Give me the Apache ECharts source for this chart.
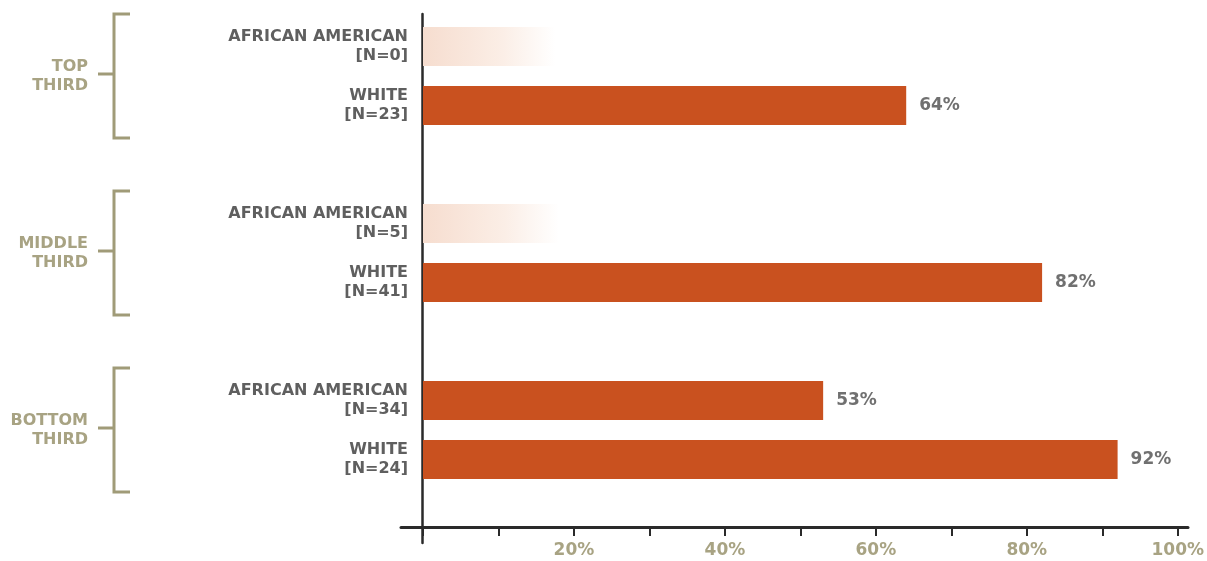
<!DOCTYPE html>
<html>
<head>
<meta charset="utf-8">
<script src="https://cdn.jsdelivr.net/npm/echarts@6/dist/echarts.min.js"></script>
<style>
  html, body { margin: 0; padding: 0; background: #ffffff; }
  #chart { width: 1207px; height: 561px; }
</style>
</head>
<body>
<div id="chart"></div>
<script>
// ---- data ----
const categories = [
  'AFRICAN AMERICAN\n[N=0]',
  'WHITE\n[N=23]',
  '',
  'AFRICAN AMERICAN\n[N=5]',
  'WHITE\n[N=41]',
  ' ',
  'AFRICAN AMERICAN\n[N=34]',
  'WHITE\n[N=24]'
];
const values = [null, 64, null, null, 82, null, 53, 92];
// faded placeholder bars (groups too small to report)
const fadedValues = [17.5, null, null, 18, null, null, null, null];
const groupNames = ['TOP\nTHIRD', 'MIDDLE\nTHIRD', 'BOTTOM\nTHIRD'];
const groupRanges = [[0, 1], [3, 4], [6, 7]];
const xTickValues = [0, 10, 20, 30, 40, 50, 60, 70, 80, 90, 100];
const xLabelValues = [20, 40, 60, 80, 100];

const FONT = 'DejaVu Sans';
const OLIVE = '#a8a383';
const BRACKET = '#a09b78';
const DARK = '#2a2a2a';
const BAR = '#c9511f';

const chart = echarts.init(document.getElementById('chart'));

const option = {
  backgroundColor: '#ffffff',
  animation: false,
  grid: [
    { left: 423, width: 755, top: 17, height: 472 },          // bars
    { left: 401, right: 19, top: 14, bottom: 34 },            // x axis line
    { left: 423, width: 755, top: 14, bottom: 34 },           // ticks & labels
    { left: 422, width: 10, top: 14, bottom: 18 }             // y axis line
  ],
  xAxis: [
    { gridIndex: 0, type: 'value', min: 0, max: 100, show: false },
    { gridIndex: 1, type: 'value', min: 0, max: 1,
      axisLine: { show: true, lineStyle: { color: DARK, width: 3 } },
      axisTick: { show: false }, axisLabel: { show: false }, splitLine: { show: false } },
    { gridIndex: 2, type: 'value', min: xTickValues[0], max: xTickValues[xTickValues.length - 1], interval: 10,
      axisLine: { show: false },
      axisTick: { show: true, length: 9, lineStyle: { color: DARK, width: 2 } },
      axisLabel: {
        margin: 15,
        color: OLIVE, fontFamily: FONT, fontWeight: 'bold', fontSize: 17,
        formatter: v => xLabelValues.indexOf(v) >= 0 ? v + '%' : ''
      },
      splitLine: { show: false } },
    { gridIndex: 3, type: 'value', show: false }
  ],
  yAxis: [
    { gridIndex: 0, type: 'category', data: categories, inverse: true,
      axisLine: { show: false }, axisTick: { show: false },
      axisLabel: {
        margin: 15, color: '#5f5f5f', fontFamily: FONT, fontWeight: 'bold',
        fontSize: 16, lineHeight: 19, align: 'right'
      } },
    { gridIndex: 1, type: 'value', show: false },
    { gridIndex: 2, type: 'value', show: false },
    { gridIndex: 3, type: 'value',
      axisLine: { show: true, lineStyle: { color: DARK, width: 2.5 } },
      axisTick: { show: false }, axisLabel: { show: false }, splitLine: { show: false } }
  ],
  series: [
    {
      name: 'faded', type: 'bar', xAxisIndex: 0, yAxisIndex: 0,
      data: fadedValues, barWidth: 39, barGap: '-100%',
      itemStyle: {
        color: new echarts.graphic.LinearGradient(0, 0, 1, 0, [
          { offset: 0, color: '#f6ddcf' },
          { offset: 0.6, color: '#fbeee6' },
          { offset: 1, color: '#ffffff' }
        ])
      },
      silent: true
    },
    {
      name: 'share', type: 'bar', xAxisIndex: 0, yAxisIndex: 0,
      data: values, barWidth: 39, barGap: '-100%',
      itemStyle: { color: BAR },
      label: {
        show: true, position: 'right', distance: 13,
        formatter: p => p.value + '%',
        color: '#707070', fontFamily: FONT, fontWeight: 'bold', fontSize: 17
      }
    },
    {
      name: 'groups', type: 'custom', xAxisIndex: 0, yAxisIndex: 0,
      clip: false, silent: true,
      data: groupRanges.map((r, i) => [r[0], r[1], i]),
      encode: { y: [0, 1] },
      renderItem: function (params, api) {
        const yA = api.coord([0, api.value(0)])[1];
        const yB = api.coord([0, api.value(1)])[1];
        const mid = (yA + yB) / 2;
        const half = 62;
        const top = mid - half, bot = mid + half;
        const name = groupNames[api.value(2)];
        return {
          type: 'group',
          children: [
            { type: 'polyline',
              shape: { points: [[130, top], [114, top], [114, bot], [130, bot]] },
              style: { stroke: BRACKET, lineWidth: 3, fill: null } },
            { type: 'line',
              shape: { x1: 98, y1: mid - 2, x2: 114, y2: mid - 2 },
              style: { stroke: BRACKET, lineWidth: 3 } },
            { type: 'text',
              style: {
                text: name, x: 88, y: mid, align: 'right', verticalAlign: 'middle',
                fill: OLIVE, fontFamily: FONT, fontWeight: 'bold', fontSize: 16, lineHeight: 19
              } }
          ]
        };
      }
    }
  ]
};

chart.setOption(option);
</script>
</body>
</html>
